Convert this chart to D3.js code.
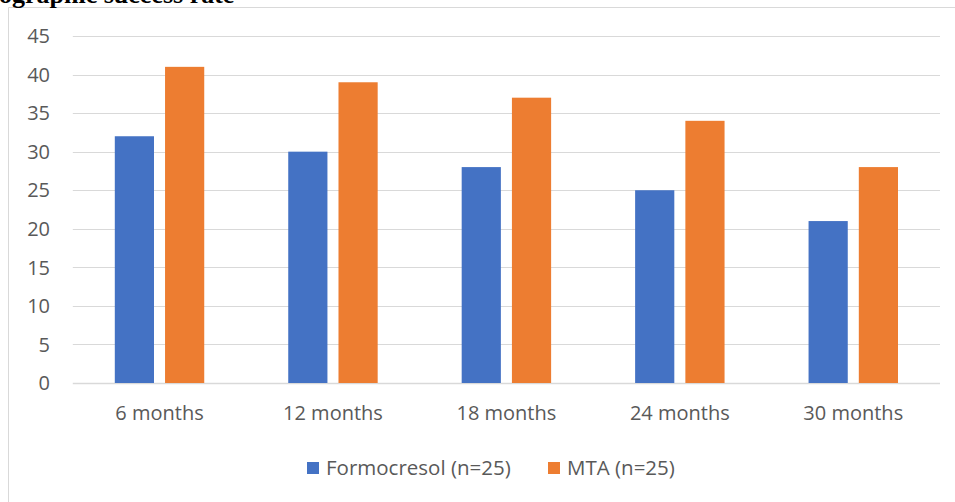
<!DOCTYPE html>
<html>
<head>
<meta charset="utf-8">
<script src="https://cdn.jsdelivr.net/npm/d3@7"></script>
<style>
  body { margin: 0; background: #fff; }
  svg { display: block; }
  text { font-family: "Open Sans", "Noto Sans", sans-serif; fill: #595959; }
</style>
</head>
<body>
<svg></svg>
<script>
const CATEGORIES = ['6 months', '12 months', '18 months', '24 months', '30 months'];
const SERIES = ['Formocresol (n=25)', 'MTA (n=25)'];
const FORMOCRESOL = [32, 30, 28, 25, 21];
const MTA = [41, 39, 37, 34, 28];
const Y_TICKS = [0, 5, 10, 15, 20, 25, 30, 35, 40, 45];
const COLORS = ['#4472C4', '#ED7D31'];

const WIDTH = 955;
const HEIGHT = 502;
const PLOT = {left: 72.8, right: 940, top: 36, bottom: 383};
const FONT_SIZE = '20px';

const svg = d3.select('svg')
  .attr('width', WIDTH)
  .attr('height', HEIGHT);

// chart frame (only top and left edges are visible in the crop)
svg.append('path')
  .attr('d', `M8.5,${HEIGHT} V7.5 H${WIDTH}`)
  .attr('fill', 'none')
  .attr('stroke', '#D9D9D9')
  .attr('stroke-width', 1);

// title, clipped by the top edge like in the source
svg.append('text')
  .attr('x', -1)
  .attr('y', 3)
  .style('font-family', '"Liberation Serif", "DejaVu Serif", serif')
  .style('font-weight', 'bold')
  .style('font-size', '26px')
  .style('fill', '#000')
  .text('ographic success rate');

const x0 = d3.scaleBand()
  .domain(CATEGORIES)
  .range([PLOT.left, PLOT.right])
  .paddingInner(0)
  .paddingOuter(0);

const x1 = d3.scaleBand()
  .domain(SERIES)
  .range([42, x0.bandwidth() - 42])
  .paddingInner(0.22);

const y = d3.scaleLinear()
  .domain([0, 45])
  .range([PLOT.bottom, PLOT.top]);

// gridlines
svg.append('g')
  .selectAll('line')
  .data(Y_TICKS)
  .enter()
  .append('line')
  .attr('x1', PLOT.left)
  .attr('x2', PLOT.right)
  .attr('y1', d => Math.round(y(d)) + 0.5)
  .attr('y2', d => Math.round(y(d)) + 0.5)
  .attr('stroke', '#D9D9D9')
  .attr('stroke-width', d => d === 0 ? 1.5 : 1);

// y labels
svg.append('g')
  .selectAll('text')
  .data(Y_TICKS)
  .enter()
  .append('text')
  .attr('x', 50)
  .attr('y', d => y(d))
  .attr('dy', '0.36em')
  .attr('text-anchor', 'end')
  .style('font-size', FONT_SIZE)
  .text(d => d);

const rows = CATEGORIES.map((c, i) => ({category: c, values: [FORMOCRESOL[i], MTA[i]]}));

const groups = svg.append('g')
  .selectAll('g')
  .data(rows)
  .enter()
  .append('g')
  .attr('transform', d => `translate(${x0(d.category)},0)`);

groups.selectAll('rect')
  .data(d => d.values.map((v, j) => ({series: SERIES[j], value: v, color: COLORS[j]})))
  .enter()
  .append('rect')
  .attr('x', d => x1(d.series))
  .attr('width', x1.bandwidth())
  .attr('y', d => y(d.value))
  .attr('height', d => y(0) - y(d.value))
  .attr('fill', d => d.color);

// category labels
svg.append('g')
  .selectAll('text')
  .data(CATEGORIES)
  .enter()
  .append('text')
  .attr('x', d => x0(d) + x0.bandwidth() / 2)
  .attr('y', 413)
  .attr('dy', '0.36em')
  .attr('text-anchor', 'middle')
  .style('font-size', FONT_SIZE)
  .text(d => d);

// legend
const LEGEND_X = [307, 548];
const legend = svg.append('g')
  .selectAll('g')
  .data(SERIES)
  .enter()
  .append('g')
  .attr('transform', (d, i) => `translate(${LEGEND_X[i]},462)`);

legend.append('rect')
  .attr('width', 12)
  .attr('height', 12)
  .attr('fill', (d, i) => COLORS[i]);

legend.append('text')
  .attr('x', 19)
  .attr('y', 6)
  .attr('dy', '0.36em')
  .style('font-size', '20.5px')
  .text(d => d);
</script>
</body>
</html>
